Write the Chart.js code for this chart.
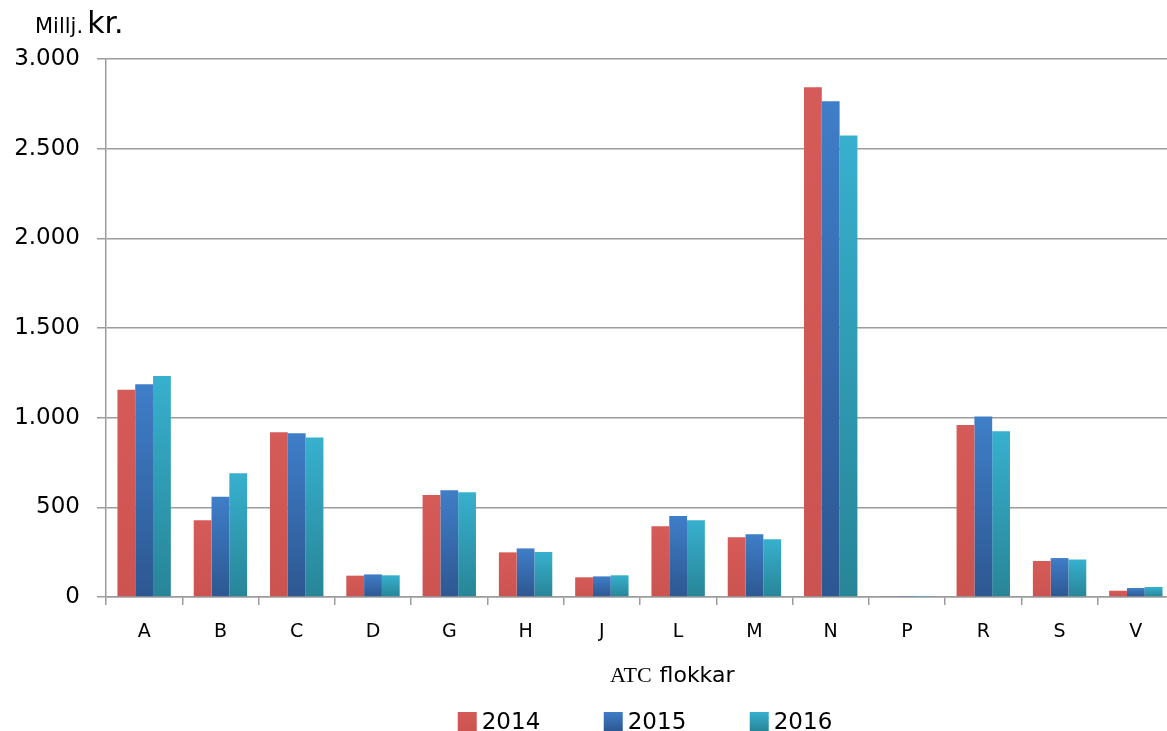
<!DOCTYPE html>
<html>
<head>
<meta charset="utf-8">
<script src="https://cdn.jsdelivr.net/npm/chart.js@4/dist/chart.umd.min.js"></script>
<style>
  html, body { margin: 0; padding: 0; background: #fff; overflow: hidden; }
  #wrap { width: 1176px; height: 731px; position: relative; }
</style>
</head>
<body>
<div id="wrap"><canvas id="canvas"></canvas></div>
<script>
// ATC groups and yearly values (million kr.)
var categories = ['A', 'B', 'C', 'D', 'G', 'H', 'J', 'L', 'M', 'N', 'P', 'R', 'S', 'V'];
var years = ['2014', '2015', '2016'];
var values2014 = [1155, 428, 918, 119, 569, 249, 110, 394, 333, 2842, 5, 959, 201, 35];
var values2015 = [1186, 559, 913, 126, 595, 271, 115, 452, 350, 2764, 2, 1006, 217, 50];
var values2016 = [1232, 690, 890, 121, 584, 251, 121, 428, 322, 2574, 2, 924, 209, 56];
var yTicks = [0, 500, 1000, 1500, 2000, 2500, 3000];

var sans = '"DejaVu Sans", Verdana, sans-serif';

// light top -> dark bottom, per bar
function barGradient(top, bottom) {
    return function (ctx) {
        var y = ctx.chart.scales.y;
        if (!y || ctx.raw == null) return top;
        var y0 = y.getPixelForValue(ctx.raw);
        var y1 = y.getPixelForValue(0);
        if (!isFinite(y0) || y1 - y0 < 1) return top;
        var g = ctx.chart.ctx.createLinearGradient(0, y0, 0, y1);
        g.addColorStop(0, top);
        g.addColorStop(1, bottom);
        return g;
    };
}

var colors = [
    ['#D55B58', '#CB5350'],
    ['#3F7EC8', '#2D5791'],
    ['#37B0CE', '#288597']
];

function fmt(v) {
    if (v >= 1000) return Math.floor(v / 1000) + '.' + String(v % 1000).padStart(3, '0');
    return String(v);
}

var extraText = {
    id: 'extraText',
    afterDraw: function (chart) {
        var c = chart.ctx;
        c.save();
        c.fillStyle = '#000';
        c.textBaseline = 'alphabetic';
        c.textAlign = 'left';

        // unit label
        c.font = '21px ' + sans;
        c.fillText('Millj.', 35, 33);
        var w = c.measureText('Millj.').width;
        c.font = '30px ' + sans;
        c.fillText('kr.', 35 + w + 4, 33);

        // x axis title
        c.font = '22px "Liberation Serif", "Times New Roman", serif';
        c.fillText('ATC', 610, 682);
        var w2 = c.measureText('ATC').width;
        c.font = '22px ' + sans;
        c.fillText('flokkar', 610 + w2 + 8, 682);

        // legend
        var step = 146, box = 19, gap = 5;
        c.font = '23px ' + sans;
        var total = step * (years.length - 1) + box + gap + c.measureText(years[years.length - 1]).width;
        var x = 645 - total / 2;
        for (var i = 0; i < years.length; i++) {
            var bx = x + i * step;
            var g = c.createLinearGradient(0, 712, 0, 731);
            g.addColorStop(0, colors[i][0]);
            g.addColorStop(1, colors[i][1]);
            c.fillStyle = g;
            c.fillRect(bx, 712, box, box);
            c.fillStyle = '#000';
            c.fillText(years[i], bx + box + gap, 729);
        }
        c.restore();
    }
};

var datasets = [values2014, values2015, values2016].map(function (vals, i) {
    return {
        label: years[i],
        data: vals,
        backgroundColor: barGradient(colors[i][0], colors[i][1]),
        borderWidth: 0,
        barPercentage: 1.0,
        categoryPercentage: 0.70
    };
});

var ctx = document.getElementById('canvas').getContext('2d');
var myChart = new Chart(ctx, {
    type: 'bar',
    data: {
        labels: categories,
        datasets: datasets
    },
    options: {
        responsive: true,
        maintainAspectRatio: false,
        animation: false,
        layout: {
            padding: { top: 59, right: 2, left: 0, bottom: 0 }
        },
        plugins: {
            legend: { display: false },
            tooltip: { enabled: false }
        },
        scales: {
            x: {
                offset: true,
                grid: {
                    offset: true,
                    drawOnChartArea: false,
                    drawTicks: true,
                    tickLength: 8,
                    color: '#9c9c9c',
                    lineWidth: 1.5
                },
                border: { color: '#9c9c9c', width: 1.5 },
                ticks: {
                    color: '#000',
                    padding: 16,
                    font: { family: sans, size: 19 }
                },
                afterFit: function (s) { s.height = 134; }
            },
            y: {
                min: 0,
                max: 3000,
                afterBuildTicks: function (s) {
                    s.ticks = yTicks.map(function (v) { return { value: v }; });
                },
                grid: {
                    color: '#9c9c9c',
                    lineWidth: 1.5,
                    tickLength: 9
                },
                border: { color: '#9c9c9c', width: 1.5 },
                ticks: {
                    color: '#000',
                    padding: 17,
                    font: { family: sans, size: 23 },
                    callback: function (v) { return fmt(v); }
                },
                afterFit: function (s) { s.width = 106; }
            }
        }
    },
    plugins: [extraText]
});
</script>
</body>
</html>
